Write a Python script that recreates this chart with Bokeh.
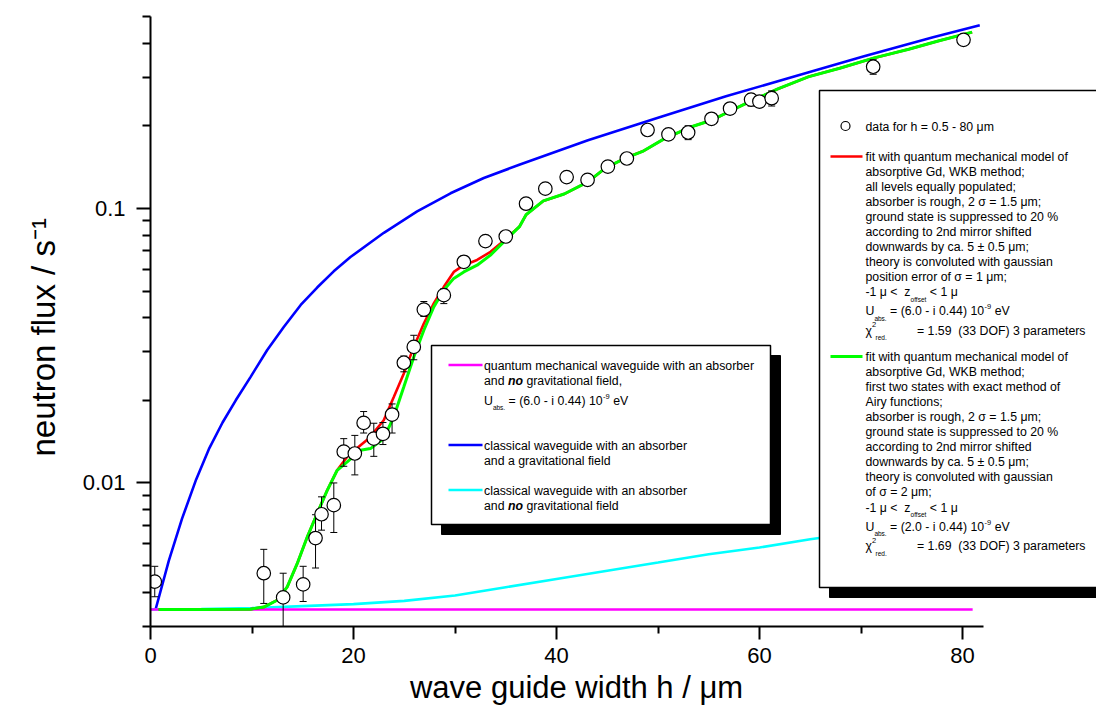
import math
from bokeh.plotting import figure
from bokeh.models import Range1d, FixedTicker, CustomJSTickFormatter, Label, Title
from bokeh.embed import file_html
from bokeh.resources import INLINE

# ---------------- data ----------------
h_data = [0.42, 11.16, 13.07, 15.04, 16.26, 16.85, 18.06, 19.04, 20.13, 21.0, 22.0, 22.9, 23.8,
          24.96, 25.94, 26.93, 28.9, 30.87, 33.0, 35.0, 37.0, 38.9, 41.0, 43.06, 45.06, 46.93,
          48.97, 51.03, 52.97, 55.27, 57.1, 59.17, 59.99, 61.2, 71.2, 80.1]
flux_data = [0.00437, 0.00469, 0.00383, 0.00427, 0.00630, 0.00769, 0.0083, 0.0130, 0.0128, 0.01655, 0.0145, 0.0151, 0.01775,
             0.0274, 0.0313, 0.0428, 0.0483, 0.0639, 0.076, 0.079, 0.104, 0.118, 0.130, 0.127, 0.142, 0.152,
             0.193, 0.186, 0.189, 0.212, 0.231, 0.249, 0.245, 0.252, 0.328, 0.411]
flux_lo = [0.00385, 0.00364, 0.0025, 0.00370, 0.0049, 0.00673, 0.0066, 0.0115, 0.0107, 0.0152, 0.0125, 0.0138, 0.0152,
           0.0254, 0.0281, 0.0404, 0.045, 0.061, 0.073, 0.076, 0.100, 0.114, 0.126, 0.121, 0.136, 0.146,
           0.187, 0.180, 0.178, 0.202, 0.220, 0.236, 0.234, 0.236, 0.308, 0.400]
flux_hi = [0.00497, 0.00573, 0.00469, 0.00497, 0.00766, 0.0089, 0.0100, 0.0145, 0.0149, 0.0182, 0.0165, 0.0166, 0.0194,
           0.0290, 0.0345, 0.0458, 0.051, 0.067, 0.079, 0.082, 0.108, 0.122, 0.134, 0.132, 0.148, 0.158,
           0.199, 0.192, 0.200, 0.222, 0.242, 0.262, 0.256, 0.268, 0.348, 0.422]

fit_wkb_h = [0.8, 5.0, 9.85, 11.16, 12.48, 13.47, 14.45, 15.44, 16.42, 17.41, 18.39, 19.38, 20.69, 21.5,
             22.98, 23.97, 24.96, 25.94, 26.93, 27.91, 28.9, 29.88, 30.87, 32.18, 33.5, 34.48, 36.35,
             37.0, 38.7, 40.75, 43.1, 44.8, 46.86, 48.55, 50.6, 53.3, 55.34, 57.4, 59.4, 61.8, 64.8,
             67.9, 71.3, 74.7, 77.7, 80.95]
fit_wkb_flux = [0.00346, 0.00346, 0.00347, 0.00353, 0.00374, 0.00418, 0.00508, 0.00635, 0.00774, 0.0094, 0.01112,
                0.01245, 0.01372, 0.01452, 0.01692, 0.02057, 0.02506, 0.0313, 0.0381, 0.0451, 0.0518, 0.0587,
                0.0621, 0.0649, 0.0695, 0.0745, 0.0858, 0.0948, 0.1065, 0.1128, 0.1249, 0.1401, 0.1529, 0.1618,
                0.1792, 0.1984, 0.2099, 0.2291, 0.2483, 0.2723, 0.3014, 0.324, 0.3533, 0.3797, 0.4082, 0.4385]

fit_airy_h = [0.8, 5.0, 9.85, 11.16, 12.48, 13.47, 14.45, 15.44, 16.42, 17.41, 18.39, 19.38, 20.69, 21.67,
              22.98, 23.97, 24.96, 25.94, 26.93, 27.91, 28.9, 29.88, 30.87, 32.18, 33.5, 34.48, 36.35,
              37.0, 38.7, 40.75, 43.1, 44.8, 46.86, 48.55, 50.6, 53.3, 55.34, 57.4, 59.4, 61.8, 64.8,
              67.9, 71.3, 74.7, 77.7, 80.95]
fit_airy_flux = [0.00346, 0.00346, 0.00347, 0.00353, 0.00374, 0.00418, 0.00508, 0.00635, 0.00774, 0.0094, 0.01112,
                 0.01194, 0.01315, 0.01334, 0.01452, 0.01742, 0.02239, 0.02877, 0.0360, 0.04379, 0.0504, 0.0556,
                 0.0587, 0.0621, 0.0676, 0.0735, 0.0858, 0.0948, 0.1065, 0.1128, 0.1249, 0.1401, 0.1529, 0.1618,
                 0.1792, 0.1984, 0.2099, 0.2291, 0.2483, 0.2723, 0.3014, 0.324, 0.3533, 0.3797, 0.4082, 0.4385]

classical_grav_h = [0.5, 1.8, 3.1, 4.5, 5.8, 7.1, 8.4, 9.85, 11.5, 13.13, 14.8, 16.42, 18.05, 19.7, 22.99,
                    26.27, 29.56, 32.84, 36.4, 43.1, 50.0, 56.7, 63.5, 70.3, 77.1, 81.7]
classical_grav_flux = [0.00346, 0.0052, 0.0074, 0.0103, 0.0134, 0.0166, 0.0200, 0.0243, 0.0305, 0.0370, 0.0445,
                       0.0515, 0.0590, 0.0665, 0.0815, 0.0975, 0.1135, 0.129, 0.1445, 0.177, 0.214, 0.256,
                       0.303, 0.358, 0.42, 0.465]

classical_nograv_h = [0.0, 5.0, 10.0, 15.0, 20.0, 25.0, 30.0, 35.0, 40.0, 45.0, 50.0, 55.0, 60.0, 65.0,
                      70.0, 75.0, 80.0]
classical_nograv_flux = [0.00346, 0.00347, 0.00350, 0.00356, 0.00362, 0.00372, 0.00389, 0.00417, 0.00447,
                         0.00479, 0.00513, 0.00550, 0.00582, 0.00624, 0.00661, 0.00700, 0.00741]

qm_nograv_h = [0.0, 81.0]
qm_nograv_flux = [0.00346, 0.00346]

x_ticks = [0, 20, 40, 60, 80]
x_minor = [10, 30, 50, 70]
y_ticks = [0.01, 0.1]
y_minor = [0.003, 0.004, 0.005, 0.006, 0.007, 0.008, 0.009,
           0.02, 0.03, 0.04, 0.05, 0.06, 0.07, 0.08, 0.09, 0.2, 0.3, 0.4, 0.5]

# ---------------- layout ----------------
FONT = "Liberation Sans"
W_FIG, H_FIG = 1096, 716
FR_L, FR_T, FR_B = 150, 16, 626           # frame edges in page pixels
PXU = 10.15                               # pixels per micrometre
Y0, Y1 = 0.003, 0.5
X1 = (W_FIG - FR_L) / PXU
DEC = (FR_B - FR_T) / math.log10(Y1 / Y0)


def dx(px):
    return (px - FR_L) / PXU


def dy(py):
    return 10 ** (math.log10(Y1) - (py - FR_T) / DEC)


p = figure(width=W_FIG, height=H_FIG, x_range=Range1d(0, X1), y_range=Range1d(Y0, Y1),
           y_axis_type="log", output_backend="svg", toolbar_location=None,
           min_border_left=FR_L, min_border_right=0, min_border_top=FR_T,
           min_border_bottom=H_FIG - FR_B)
p.xgrid.visible = False
p.ygrid.visible = False
p.outline_line_color = None
p.background_fill_color = "white"

for ax in (p.xaxis[0], p.yaxis[0]):
    ax.axis_line_width = 2
    ax.major_tick_line_width = 2
    ax.minor_tick_line_width = 2
    ax.major_tick_in = 0
    ax.minor_tick_in = 0
    ax.major_label_text_font = FONT
    ax.major_label_text_font_size = "22px"
    ax.major_label_text_color = "black"
    ax.axis_line_color = "black"

p.xaxis.bounds = (0, 82.07)
p.xaxis.ticker = FixedTicker(ticks=x_ticks, minor_ticks=x_minor)
p.xaxis.major_tick_out = 13
p.xaxis.minor_tick_out = 7
p.xaxis.major_label_standoff = 8

p.yaxis.bounds = (Y0, Y1)
p.yaxis.ticker = FixedTicker(ticks=y_ticks, minor_ticks=y_minor)
p.yaxis.formatter = CustomJSTickFormatter(code="return tick.toString();")
p.yaxis.major_tick_out = 14
p.yaxis.minor_tick_out = 8
p.yaxis.major_label_standoff = 11

# ---------------- curves ----------------
LW = 2.6
p.line(classical_grav_h, classical_grav_flux, line_color="#0000FF", line_width=LW)
p.line(classical_nograv_h, classical_nograv_flux, line_color="#00FFFF", line_width=LW)
p.line(qm_nograv_h, qm_nograv_flux, line_color="#FF00FF", line_width=LW)
p.line(fit_wkb_h, fit_wkb_flux, line_color="#FF0000", line_width=LW)
p.line(fit_airy_h, fit_airy_flux, line_color="#00FF00", line_width=LW + 0.4)

# ---------------- data points with error bars ----------------
p.segment(h_data, flux_lo, h_data, flux_hi, line_color="black", line_width=1)
p.scatter(h_data, flux_lo, marker="dash", size=7, line_color="black", line_width=1)
p.scatter(h_data, flux_hi, marker="dash", size=7, line_color="black", line_width=1)
p.scatter(h_data, flux_data, marker="circle", size=13.5, fill_color="white",
          line_color="black", line_width=1.2)

# ---------------- legend boxes ----------------
def box(l, t, r, b, shadow=10):
    p.quad(left=[dx(l + shadow)], right=[dx(r + shadow)], top=[dy(t + shadow)], bottom=[dy(b + shadow)],
           fill_color="black", line_color="black")
    p.quad(left=[dx(l)], right=[dx(r)], top=[dy(t)], bottom=[dy(b)],
           fill_color="white", line_color="black", line_width=1.5)


box(431, 345, 770, 524, shadow=10)
box(819, 90, 1130, 587, shadow=10)

W = {' ': 278, '!': 278, '(': 333, ')': 333, ',': 278, '-': 333, '.': 278, '/': 278, '<': 584, '=': 584,
     '>': 584, '%': 889, '±': 584, ';': 278, 'μ': 576, 'σ': 600, 'χ': 550,
     'a': 556, 'b': 556, 'c': 500, 'd': 556, 'e': 556, 'f': 278, 'g': 556, 'h': 556, 'i': 222, 'j': 222,
     'k': 500, 'l': 222, 'm': 833, 'n': 556, 'o': 556, 'p': 556, 'q': 556, 'r': 333, 's': 500, 't': 278,
     'u': 556, 'v': 500, 'w': 722, 'x': 500, 'y': 500, 'z': 500, 'A': 667, 'B': 667, 'C': 722, 'D': 722,
     'E': 667, 'F': 611, 'G': 778, 'K': 667, 'O': 778, 'U': 722, 'W': 944}
FS = 12.3
FSS = 6.5
NB = "\u00a0"


def tw(s, size, bold=False):
    return sum((611 if bold else W.get(c, 556)) for c in s) * size / 1000.0


def txt(px, py, s, size=FS, style="normal"):
    p.add_layout(Label(x=dx(px), y=dy(py), text=s, text_font=FONT, text_font_size=f"{size}px",
                       text_font_style=style, text_baseline="middle", text_align="left",
                       text_color="black"))


def flow(px, py, parts):
    x = px
    for s, kind in parts:
        size = FS if kind in ("n", "bi") else (FSS if kind == "sub" else FSS + 1)
        lead = len(s) - len(s.lstrip(" "))
        x += lead * W[" "] * size / 1000.0
        s = s.lstrip(" ").replace("  ", " " + NB)
        if kind == "n":
            txt(x, py, s)
            x += tw(s.replace(NB, " "), FS)
        elif kind == "bi":
            txt(x, py, s, style="bold italic")
            x += tw(s, FS, bold=True)
        elif kind == "sub":
            txt(x, py + 7, s, size=FSS)
            x += tw(s, FSS)
        elif kind == "sup":
            txt(x + 0.5, py - 4.5, s, size=FSS + 1)
            x += tw(s, FSS + 1) + 0.5


# middle legend
MX = 483.5
p.line([dx(448), dx(482)], [dy(364.5)] * 2, line_color="#FF00FF", line_width=LW)
p.line([dx(448), dx(482)], [dy(444.5)] * 2, line_color="#0000FF", line_width=LW)
p.line([dx(448), dx(482)], [dy(489.5)] * 2, line_color="#00FFFF", line_width=LW)
flow(MX, 365, [("quantum mechanical waveguide with an absorber", "n")])
flow(MX, 380, [("and ", "n"), ("no", "bi"), (" gravitational field,", "n")])
flow(MX, 400, [("U", "n"), ("abs.", "sub"), (" = (6.0 - i 0.44) 10", "n"), ("-9", "sup"), (" eV", "n")])
flow(MX, 445, [("classical waveguide with an absorber", "n")])
flow(MX, 460, [("and a gravitational field", "n")])
flow(MX, 490, [("classical waveguide with an absorber", "n")])
flow(MX, 505, [("and ", "n"), ("no", "bi"), (" gravitational field", "n")])

# right legend
RX = 865
p.scatter([dx(845)], [dy(125.5)], marker="circle", size=9, fill_color="white", line_color="black", line_width=1.2)
p.line([dx(830), dx(862)], [dy(156)] * 2, line_color="#FF0000", line_width=LW)
p.line([dx(830), dx(862)], [dy(356)] * 2, line_color="#00FF00", line_width=LW + 0.4)
flow(RX, 126, [("data for h = 0.5 - 80 μm", "n")])

block1 = ["fit with quantum mechanical model of", "absorptive Gd, WKB method;",
          "all levels equally populated;", "absorber is rough, 2 σ = 1.5 μm;",
          "ground state is suppressed to 20 %", "according to 2nd mirror shifted",
          "downwards by ca. 5 ± 0.5 μm;", "theory is convoluted with gaussian",
          "position error of σ = 1 μm;"]
block2 = ["fit with quantum mechanical model of", "absorptive Gd, WKB method;",
          "first two states with exact method of", "Airy functions;",
          "absorber is rough, 2 σ = 1.5 μm;", "ground state is suppressed to 20 %",
          "according to 2nd mirror shifted", "downwards by ca. 5 ± 0.5 μm;",
          "theory is convoluted with gaussian", "of σ = 2 μm;"]


def block(y0, lines, U, chi):
    y = y0
    for s in lines:
        flow(RX, y, [(s, "n")])
        y += 15.1
    flow(RX, y, [("-1 μ <  z", "n"), ("offset", "sub"), (" < 1 μ", "n")])
    y += 19
    flow(RX, y, [("U", "n"), ("abs.", "sub"), (f" = ({U} - i 0.44) 10", "n"), ("-9", "sup"), (" eV", "n")])
    y += 19.5
    txt(RX, y, "χ")
    txt(RX + 6.5, y - 6, "2", size=FSS + 1)
    txt(RX + 10, y + 7, "red.", size=FSS)
    txt(RX + 51.5, y, f"= {chi}{NB} (33 DOF) 3 parameters")


block(156, block1, "6.0", "1.59")
block(356, block2, "2.0", "1.69")

# ---------------- axis titles ----------------
XT = "wave guide width h / μm"
XT_FS = 31
xt_w = tw(XT, XT_FS)
p.add_layout(Title(text=XT, align="left", offset=576 - FR_L - xt_w / 2, text_font=FONT,
                   text_font_size=f"{XT_FS}px", text_font_style="normal", text_color="black",
                   standoff=5), "below")

YT = "neutron flux / s⁻¹"
p.add_layout(Title(text=YT, align="left", offset=FR_B - 456, text_font=FONT,
                   text_font_size="33px", text_font_style="normal", text_color="black",
                   standoff=36), "left")

open("out.html", "w").write(file_html(p, INLINE))
